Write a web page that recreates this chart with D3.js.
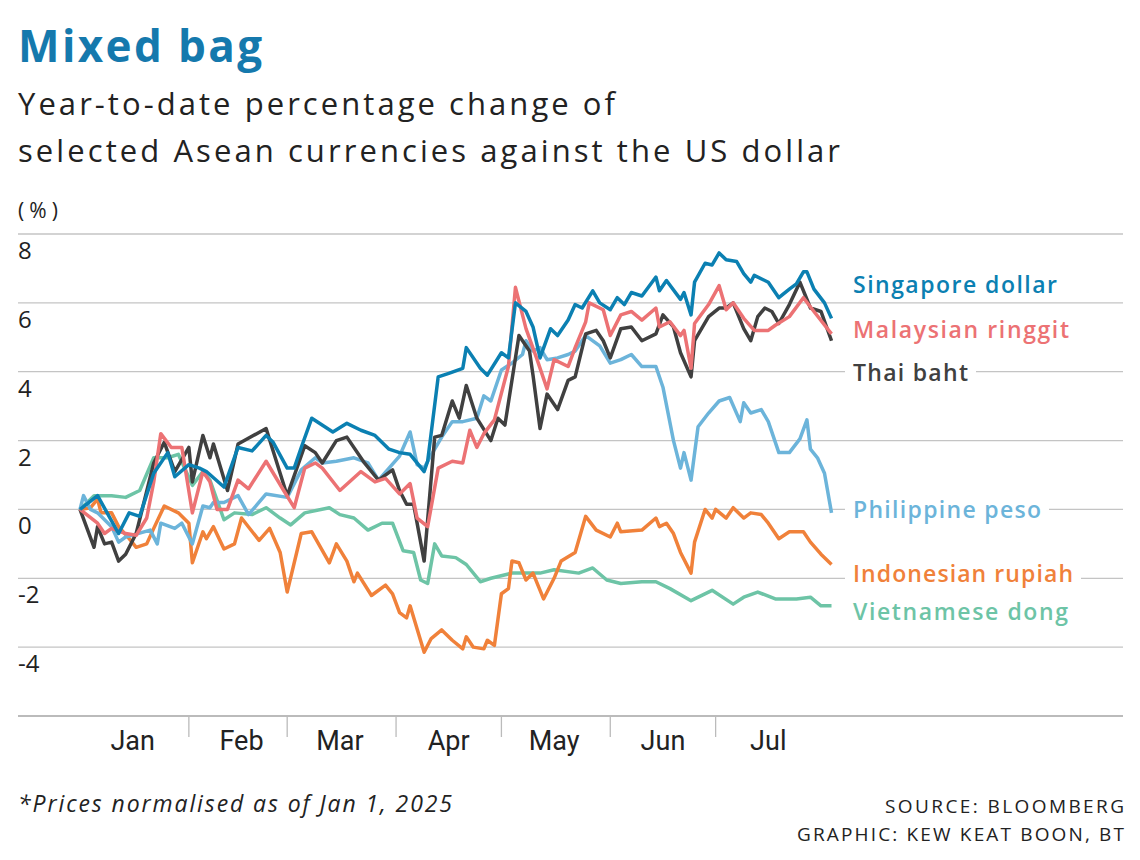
<!DOCTYPE html>
<html>
<head>
<meta charset="utf-8">
<script src="https://cdn.jsdelivr.net/npm/d3@7"></script>
<style>
  body { margin: 0; background: #fff; }
  svg { font-family: "Open Sans", Roboto, "Noto Sans", sans-serif; }
</style>
</head>
<body>
<script>
// [day of year (0 = Jan 1), % change vs US dollar]
var singapore = [[0,0],[5,0.4],[11,-0.7],[14,-0.1],[17,-0.2],[21,1.05],[25,1.65],[27,0.95],[31,1.3],[34,1.2],[36,1.1],[41,0.65],[45,1.8],[49,1.7],[53,2.15],[55,1.95],[59,1.2],[61,1.2],[63,1.8],[66,2.65],[72,2.25],[76,2.5],[80,2.3],[84,2.15],[88,1.75],[91,1.65],[94,1.6],[98,1.1],[99,1.4],[102,3.85],[105,3.95],[109,4.1],[110,4.7],[114,4.1],[116,3.9],[120,4.55],[122,4.4],[124,6.0],[127,5.75],[129,5.3],[131,4.4],[134,5.25],[136,5.05],[139,5.5],[141,5.95],[143,5.85],[146,6.35],[148,6.0],[151,5.8],[153,6.15],[155,5.95],[157,6.3],[160,6.2],[164,6.75],[165,6.35],[167,6.65],[171,6.1],[172,6.3],[174,5.65],[175,6.6],[178,7.15],[180,7.1],[182,7.45],[184,7.25],[187,7.2],[189,6.85],[191,6.6],[192,6.8],[196,6.6],[199,6.15],[202,6.4],[204,6.55],[206,6.9],[207,6.9],[209,6.4],[212,6.0],[214,5.55]];
var malaysia = [[0,0],[5,-0.4],[7,-0.7],[9,-0.55],[13,-0.7],[16,-0.75],[19,-0.25],[21,0.8],[23,2.2],[26,1.8],[29,1.8],[32,-0.1],[35,1.1],[37,0.8],[39,0.0],[42,0.0],[45,0.85],[48,0.6],[53,1.4],[58,0.55],[61,0.05],[64,1.2],[67,1.35],[69,1.2],[74,0.55],[80,1.1],[84,0.8],[87,0.9],[91,0.45],[94,0.75],[96,-0.25],[99,-0.5],[102,1.2],[106,1.4],[109,1.35],[111,2.3],[113,1.8],[115,2.2],[118,2.6],[122,4.15],[124,6.45],[127,5.25],[130,4.4],[133,3.5],[135,4.35],[139,4.15],[141,4.7],[144,5.45],[145,6.0],[149,5.8],[151,5.05],[154,5.65],[157,5.75],[160,5.5],[164,5.85],[165,5.3],[168,5.45],[171,5.05],[172,5.2],[174,4.1],[175,5.4],[179,5.95],[182,6.5],[184,5.8],[186,6.0],[189,5.55],[192,5.2],[196,5.2],[198,5.35],[202,5.6],[206,6.15],[209,5.75],[214,5.1]];
var thailand = [[0,0],[4,-1.1],[5,-0.5],[7,-1.0],[9,-0.95],[11,-1.5],[13,-1.3],[16,-0.7],[21,1.35],[24,1.95],[27,1.1],[31,1.8],[32,0.8],[35,2.15],[37,1.5],[38,1.9],[42,0.55],[45,1.9],[53,2.35],[55,1.7],[59,0.4],[64,1.85],[67,1.65],[69,1.35],[73,2.0],[76,2.1],[81,1.35],[85,0.85],[89,1.15],[91,0.55],[93,0.15],[95,0.15],[98,-1.5],[101,2.1],[103,2.15],[106,3.15],[108,2.65],[110,3.6],[113,2.65],[117,2.0],[119,2.65],[121,2.45],[125,5.05],[128,4.6],[129,3.9],[131,2.35],[133,3.35],[136,2.9],[139,3.75],[141,3.85],[144,5.1],[147,5.2],[149,4.9],[151,4.4],[154,5.25],[157,5.3],[160,4.9],[164,5.1],[166,5.65],[169,5.3],[171,4.55],[174,3.85],[175,4.9],[179,5.6],[182,5.85],[184,5.85],[186,6.0],[189,5.25],[191,4.9],[193,5.6],[195,5.85],[197,5.75],[199,5.4],[202,5.95],[205,6.6],[208,5.85],[211,5.75],[214,4.9]];
var philippines = [[0,0],[1,0.4],[3,0],[5,-0.1],[9,-0.5],[11,-0.95],[13,-0.8],[20,-0.6],[22,-1.0],[23,-0.4],[27,-0.55],[29,-0.4],[32,-1.0],[35,0.1],[37,0.05],[38,0.2],[41,0.2],[45,0.4],[48,-0.15],[53,0.45],[59,0.35],[63,1.15],[67,1.5],[69,1.35],[73,1.4],[78,1.5],[82,1.35],[85,0.85],[88,1.2],[91,1.55],[94,2.25],[96,1.3],[98,1.2],[99,1.4],[103,2.1],[106,2.55],[109,2.55],[113,2.65],[115,3.3],[117,3.15],[120,4.05],[123,4.25],[126,4.5],[127,4.9],[129,4.6],[131,4.7],[133,4.35],[136,4.4],[139,4.5],[141,4.6],[144,5.05],[148,4.75],[151,4.25],[154,4.35],[157,4.5],[160,4.15],[164,4.15],[166,3.55],[169,2.0],[171,1.2],[172,1.65],[174,0.85],[176,2.4],[179,2.8],[182,3.15],[185,3.25],[188,2.55],[189,3.1],[191,2.8],[194,2.9],[196,2.55],[199,1.65],[202,1.65],[205,2.05],[207,2.6],[208,1.75],[210,1.5],[212,1.05],[214,-0.1]];
var indonesia = [[0,0],[3,0.05],[5,0.3],[6,-0.1],[9,-0.1],[11,-0.5],[14,-0.85],[16,-1.1],[19,-1.0],[21,-0.55],[24,0.1],[28,-0.1],[31,-0.4],[32,-1.55],[35,-0.65],[36,-0.85],[38,-0.5],[41,-1.15],[44,-1.0],[46,-0.25],[51,-0.9],[54,-0.55],[57,-1.25],[59,-2.4],[63,-0.7],[66,-0.65],[71,-1.55],[73,-1.0],[76,-1.5],[78,-2.1],[79,-1.85],[83,-2.5],[87,-2.2],[89,-2.45],[91,-3.0],[93,-3.15],[94,-2.8],[98,-4.15],[100,-3.75],[103,-3.5],[106,-3.8],[109,-4.05],[110,-3.7],[112,-4.0],[115,-4.05],[116,-3.8],[118,-3.95],[120,-2.45],[122,-2.3],[123,-1.5],[125,-1.55],[127,-2.05],[129,-1.85],[132,-2.6],[135,-2.0],[137,-1.5],[141,-1.25],[144,-0.2],[147,-0.6],[151,-0.8],[153,-0.4],[154,-0.65],[160,-0.6],[164,-0.25],[165,-0.5],[167,-0.4],[169,-0.7],[171,-1.25],[174,-1.85],[175,-0.95],[178,0.0],[180,-0.25],[181,0.0],[184,-0.25],[186,0.05],[189,-0.25],[191,-0.1],[194,-0.15],[196,-0.4],[199,-0.85],[202,-0.65],[206,-0.65],[208,-0.95],[211,-1.3],[214,-1.6]];
var vietnam = [[0,0],[4,0.4],[9,0.4],[13,0.35],[17,0.55],[21,1.5],[25,1.5],[28,1.6],[32,0.7],[35,1.1],[37,0.85],[41,-0.3],[44,-0.1],[49,-0.15],[53,0.05],[57,-0.25],[60,-0.45],[64,-0.1],[71,0.05],[74,-0.15],[78,-0.25],[82,-0.6],[86,-0.4],[89,-0.4],[92,-1.2],[95,-1.25],[97,-2.05],[99,-2.15],[101,-1.0],[103,-1.35],[107,-1.4],[110,-1.6],[114,-2.1],[117,-2.0],[123,-1.85],[131,-1.85],[135,-1.75],[142,-1.85],[146,-1.7],[150,-2.05],[154,-2.15],[160,-2.1],[164,-2.1],[168,-2.3],[174,-2.65],[180,-2.35],[186,-2.75],[189,-2.55],[193,-2.4],[198,-2.6],[204,-2.6],[208,-2.55],[211,-2.8],[214,-2.8]];

var yTicks = [8, 6, 4, 2, 0, -2, -4];
var months = ["Jan", "Feb", "Mar", "Apr", "May", "Jun", "Jul"];

var series = [
  { name: "Vietnamese dong",  data: vietnam,     color: "#6dc4a6", labelY: -2.95, w: 215 },
  { name: "Indonesian rupiah",data: indonesia,   color: "#f0813a", labelY: -1.85, w: 220 },
  { name: "Philippine peso",  data: philippines, color: "#6cb4da", labelY: 0.0,   w: 188 },
  { name: "Thai baht",        data: thailand,    color: "#404040", labelY: 4.0,   w: 115 },
  { name: "Malaysian ringgit",data: malaysia,    color: "#ec7274", labelY: 5.25,  w: 216 },
  { name: "Singapore dollar", data: singapore,   color: "#0b80b2", labelY: 6.55,  w: 204 }
];

var W = 1140, H = 860;
var svg = d3.select("body").append("svg").attr("width", W).attr("height", H);

var jan1 = new Date(2025, 0, 1);
function toDate(d) { return d3.timeDay.offset(jan1, d); }

var x = d3.scaleTime().domain([jan1, new Date(2025, 7, 2)]).range([80, 828]);
var y = d3.scaleLinear().domain([-6, 8]).range([716, 234]);

function txt(xp, yp, size, s, width) {
  var t = svg.append("text").attr("x", xp).attr("y", yp)
    .style("font-size", size + "px").style("fill", "#222").text(s);
  if (width) t.attr("textLength", width).attr("lengthAdjust", "spacing");
  return t;
}

// titles
txt(18, 62, 44, "Mixed bag", 244).style("font-weight", "bold").style("fill", "#1579ad");
txt(18, 115, 31, "Year-to-date percentage change of", 597);
txt(18, 162, 31, "selected Asean currencies against the US dollar", 822);
txt(18, 218, 21, "(%)", 40);

// grid + y labels
svg.selectAll("line.grid").data(yTicks.concat([-6])).enter().append("line")
  .attr("x1", 18).attr("x2", 1123)
  .attr("y1", function (d) { return y(d); }).attr("y2", function (d) { return y(d); })
  .style("stroke", function (d) { return d === -6 ? "#bbb" : "#c4c4c4"; })
  .style("stroke-width", function (d) { return d === -6 ? 2 : 1.3; });

svg.selectAll("text.ytick").data(yTicks).enter().append("text")
  .attr("x", 18).attr("y", function (d) { return y(d) + 25; })
  .style("font-size", "24px").style("fill", "#222")
  .text(function (d) { return d; });

// month ticks and labels
var monthStarts = d3.range(1, 7).map(function (m) { return new Date(2025, m, 1); });
svg.selectAll("line.mtick").data(monthStarts).enter().append("line")
  .attr("x1", function (d) { return x(d); }).attr("x2", function (d) { return x(d); })
  .attr("y1", 716).attr("y2", 737)
  .style("stroke", "#bbb").style("stroke-width", 1.3);

svg.selectAll("text.month").data(months).enter().append("text")
  .attr("x", function (d, i) { return x(new Date(2025, i, 16)); })
  .attr("y", 750).attr("text-anchor", "middle")
  .style("font-family", "'Liberation Sans Narrow', Roboto, sans-serif")
  .style("font-size", "27px").style("fill", "#222")
  .text(function (d) { return d; });

// lines
var line = d3.line()
  .x(function (d) { return x(toDate(d[0])); })
  .y(function (d) { return y(d[1]); });

svg.selectAll("path.series").data(series).enter().append("path")
  .attr("d", function (d) { return line(d.data); })
  .style("fill", "none")
  .style("stroke", function (d) { return d.color; })
  .style("stroke-width", 3.5)
  .style("stroke-linejoin", "round");

// labels with white backing
var labels = svg.selectAll("g.lbl").data(series).enter().append("g");
labels.append("text")
  .attr("x", 853).attr("y", function (d) { return y(d.labelY) + 9; })
  .attr("textLength", function (d) { return d.w; }).attr("lengthAdjust", "spacing")
  .style("font-size", "23px").style("font-weight", 600)
  .style("fill", function (d) { return d.color; })
  .text(function (d) { return d.name; })
  .each(function () {
    var b = this.getBBox();
    d3.select(this.parentNode).insert("rect", "text")
      .attr("x", b.x - 8).attr("y", b.y).attr("width", b.width + 16).attr("height", b.height)
      .style("fill", "#fff");
  });

// footer
txt(18, 812, 23, "*Prices normalised as of Jan 1, 2025", 434).style("font-style", "italic");
txt(885, 813, 19, "SOURCE: BLOOMBERG", 239);
txt(797, 841, 19, "GRAPHIC: KEW KEAT BOON, BT", 327);
</script>
</body>
</html>
